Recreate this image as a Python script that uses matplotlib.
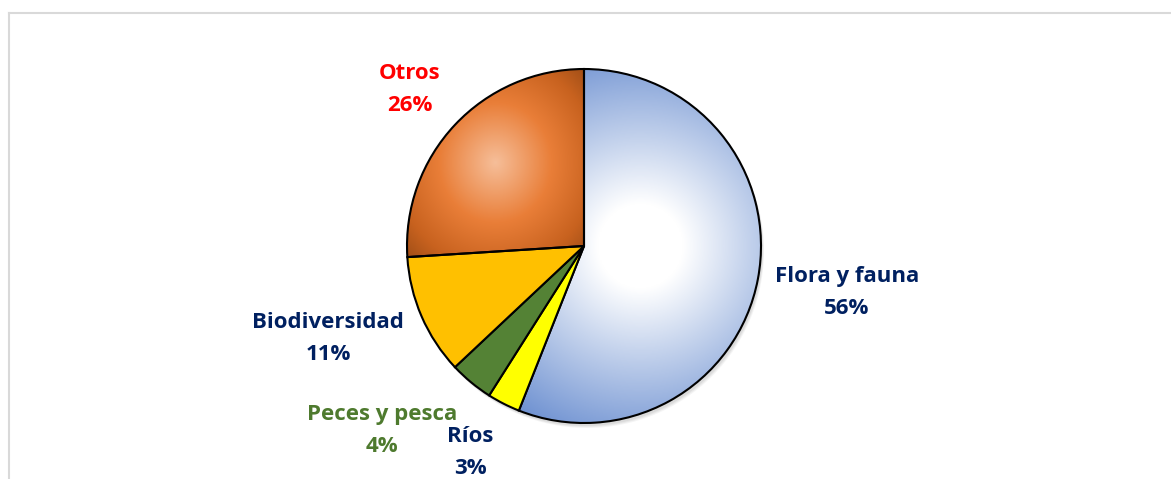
import numpy as np
import matplotlib.pyplot as plt
from matplotlib.colors import LinearSegmentedColormap
from matplotlib.lines import Line2D
from matplotlib.patches import Circle

# data, clockwise from 12 o'clock
labels = ['Flora y fauna', 'Ríos', 'Peces y pesca', 'Biodiversidad', 'Otros']
values = [56, 3, 4, 11, 26]
slice_colors = ['#8FAADC', '#FFFF00', '#548235', '#FFC000', '#ED7D31']
label_colors = ['#002060', '#002060', '#4E7A2E', '#002060', '#FF0000']
# label anchor (x, baseline y) in pixels from top-left
label_pos = [(847, 282), (470, 442), (382, 420), (328, 328), (410, 79)]

W, H = 1171, 479

fig = plt.figure(figsize=(W / 100, H / 100), dpi=100)
ax = fig.add_axes([0, 0, 1, 1])

cx, cy, r = 584, H - 246, 177

wedges, _ = ax.pie(values, colors=slice_colors, startangle=90, counterclock=False,
                   center=(cx, cy), radius=r,
                   wedgeprops=dict(edgecolor='black', linewidth=1.5))

# soft shadow below the pie
for k, a in [(5, 0.08), (4, 0.10), (3, 0.12)]:
    ax.add_patch(Circle((cx + k * 0.6, cy - k), r, facecolor='#7F7F7F',
                        edgecolor='none', alpha=a, zorder=-2))
ax.add_patch(Circle((cx, cy), r, facecolor='white', edgecolor='none', zorder=-1))


def grad_fill(wedge, cmap, mode, norm):
    ext = wedge.get_path().get_extents()
    gx = (ext.x0 + ext.x1) / 2
    gy = (ext.y0 + ext.y1) / 2
    xs = np.linspace(ext.x0, ext.x1, 400)
    ys = np.linspace(ext.y0, ext.y1, 400)
    X, Y = np.meshgrid(xs, ys)
    if mode == 'circle':
        t = np.hypot(X - gx, Y - gy) / norm
    else:
        hw, hh = ext.width / 2, ext.height / 2
        t = np.hypot((X - gx) / hw, (Y - gy) / hh) / np.sqrt(2)
    im = ax.imshow(np.clip(t, 0, 1), cmap=cmap, vmin=0, vmax=1, origin='lower',
                   extent=(ext.x0, ext.x1, ext.y0, ext.y1), zorder=0.5,
                   interpolation='bilinear')
    im.set_clip_path(wedge)
    wedge.set_facecolor('none')


blue = LinearSegmentedColormap.from_list(
    'b', [(0, '#FFFFFF'), (0.2, '#FFFFFF'), (0.5, '#C6D4ED'), (1, '#6A8ED0')])
orange = LinearSegmentedColormap.from_list(
    'o', [(0, '#F6BE99'), (0.45, '#E97E38'), (0.8, '#C8621F'), (1, '#A24F17')])

grad_fill(wedges[0], blue, 'circle', 210)
grad_fill(wedges[4], orange, 'ellipse', None)

for w in wedges:
    w.set_zorder(1)

for lab, v, col, (x, y) in zip(labels, values, label_colors, label_pos):
    ax.text(x, H - y, lab, ha='center', va='baseline', fontsize=16,
            fontweight='bold', family='Open Sans', color=col)
    ax.text(x, H - y - 32, f'{v}%', ha='center', va='baseline', fontsize=16,
            fontweight='bold', family='Open Sans', color=col)

ax.set_xlim(0, W)
ax.set_ylim(0, H)
ax.set_aspect('equal')
ax.axis('off')

# chart area border (only top and left are visible)
fig.add_artist(Line2D([8.5 / W, 8.5 / W], [0, (H - 13) / H], color='#D9D9D9', lw=1.5))
fig.add_artist(Line2D([8.5 / W, 1], [(H - 13) / H, (H - 13) / H], color='#D9D9D9', lw=1.5))

fig.savefig('out.png', dpi=100)
